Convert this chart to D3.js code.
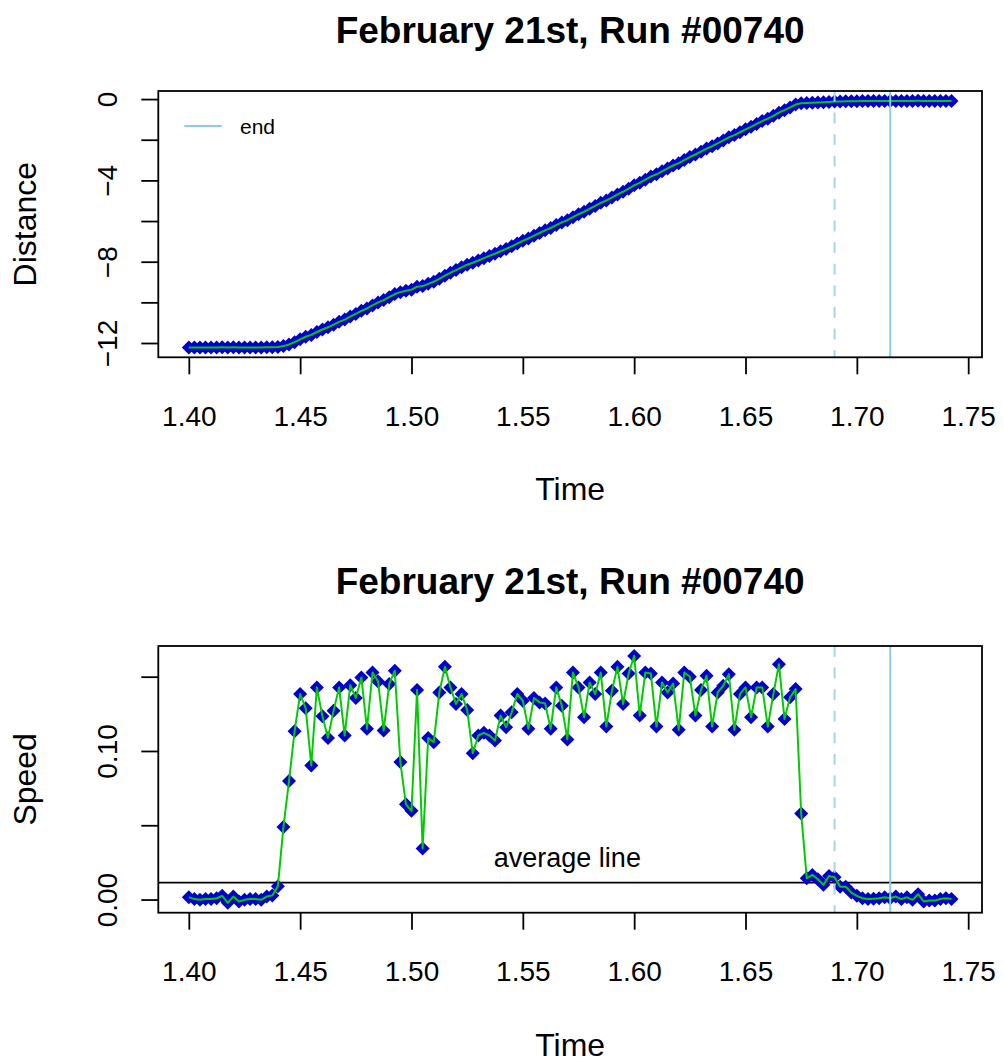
<!DOCTYPE html>
<html>
<head>
<meta charset="utf-8">
<script src="https://cdn.jsdelivr.net/npm/d3@7"></script>
<style>
  html, body { margin: 0; padding: 0; background: #fff; }
  svg text { font-family: "Liberation Sans", Arial, Helvetica, sans-serif; fill: #000; }
</style>
</head>
<body>
<svg id="chart" width="1004" height="1064"></svg>
<script>
// Sample times of run #00740
const time = [
  1.4000,1.4025,1.4050,1.4075,1.4100,1.4125,1.4150,1.4175,1.4200,1.4225,
  1.4250,1.4275,1.4300,1.4325,1.4350,1.4375,1.4400,1.4425,1.4450,1.4475,
  1.4500,1.4525,1.4550,1.4575,1.4600,1.4625,1.4650,1.4675,1.4700,1.4725,
  1.4750,1.4775,1.4800,1.4825,1.4850,1.4875,1.4900,1.4925,1.4950,1.4975,
  1.5000,1.5025,1.5050,1.5075,1.5100,1.5125,1.5150,1.5175,1.5200,1.5225,
  1.5250,1.5275,1.5300,1.5325,1.5350,1.5375,1.5400,1.5425,1.5450,1.5475,
  1.5500,1.5525,1.5550,1.5575,1.5600,1.5625,1.5650,1.5675,1.5700,1.5725,
  1.5750,1.5775,1.5800,1.5825,1.5850,1.5875,1.5900,1.5925,1.5950,1.5975,
  1.6000,1.6025,1.6050,1.6075,1.6100,1.6125,1.6150,1.6175,1.6200,1.6225,
  1.6250,1.6275,1.6300,1.6325,1.6350,1.6375,1.6400,1.6425,1.6450,1.6475,
  1.6500,1.6525,1.6550,1.6575,1.6600,1.6625,1.6650,1.6675,1.6700,1.6725,
  1.6750,1.6775,1.6800,1.6825,1.6850,1.6875,1.6900,1.6925,1.6950,1.6975,
  1.7000,1.7025,1.7050,1.7075,1.7100,1.7125,1.7150,1.7175,1.7200,1.7225,
  1.7250,1.7275,1.7300,1.7325,1.7350,1.7375,1.7400,1.7425
];

// Position along the track
const distance = [
  -12.218,-12.217,-12.218,-12.217,-12.217,-12.216,-12.214,-12.216,-12.214,-12.216,
  -12.216,-12.215,-12.215,-12.215,-12.213,-12.210,-12.201,-12.152,-12.072,-11.959,
  -11.821,-11.692,-11.602,-11.459,-11.336,-11.227,-11.100,-10.957,-10.847,-10.702,
  -10.567,-10.417,-10.302,-10.149,-10.003,-9.889,-9.744,-9.590,-9.498,-9.434,
  -9.374,-9.233,-9.199,-9.090,-8.984,-8.845,-8.688,-8.545,-8.414,-8.276,
  -8.148,-8.050,-7.939,-7.827,-7.717,-7.610,-7.486,-7.370,-7.244,-7.106,
  -6.972,-6.857,-6.721,-6.589,-6.457,-6.342,-6.199,-6.068,-5.961,-5.808,
  -5.665,-5.542,-5.396,-5.258,-5.105,-4.989,-4.848,-4.692,-4.560,-4.408,
  -4.244,-4.120,-3.967,-3.815,-3.699,-3.553,-3.413,-3.268,-3.154,-3.001,
  -2.851,-2.727,-2.586,-2.436,-2.319,-2.180,-2.036,-1.884,-1.770,-1.632,
  -1.489,-1.366,-1.224,-1.081,-0.964,-0.826,-0.668,-0.546,-0.410,-0.268,
  -0.210,-0.196,-0.179,-0.166,-0.156,-0.140,-0.125,-0.116,-0.108,-0.103,
  -0.101,-0.100,-0.099,-0.099,-0.098,-0.096,-0.096,-0.094,-0.093,-0.092,
  -0.092,-0.088,-0.090,-0.090,-0.091,-0.091,-0.090,-0.089
];

// Speed per sample
const speed = [
  0.0016,0.0003,-0.0002,0.0003,0.0003,0.0009,0.0025,-0.0022,0.0020,-0.0013,
  -0.0002,0.0003,0.0003,-0.0002,0.0020,0.0028,0.0090,0.0489,0.0798,0.1133,
  0.1383,0.1287,0.0903,0.1428,0.1233,0.1088,0.1271,0.1428,0.1104,0.1443,
  0.1357,0.1495,0.1149,0.1528,0.1468,0.1137,0.1450,0.1540,0.0925,0.0641,
  0.0597,0.1410,0.0344,0.1088,0.1059,0.1394,0.1566,0.1428,0.1316,0.1383,
  0.1276,0.0985,0.1104,0.1122,0.1104,0.1070,0.1238,0.1160,0.1260,0.1383,
  0.1338,0.1149,0.1357,0.1327,0.1320,0.1149,0.1428,0.1305,0.1078,0.1528,
  0.1428,0.1227,0.1461,0.1383,0.1528,0.1164,0.1405,0.1566,0.1316,0.1521,
  0.1640,0.1238,0.1528,0.1521,0.1164,0.1461,0.1394,0.1454,0.1142,0.1528,
  0.1499,0.1238,0.1410,0.1506,0.1164,0.1394,0.1439,0.1517,0.1142,0.1383,
  0.1428,0.1227,0.1428,0.1428,0.1164,0.1383,0.1584,0.1216,0.1361,0.1417,
  0.0579,0.0143,0.0166,0.0137,0.0099,0.0159,0.0150,0.0087,0.0087,0.0047,
  0.0025,0.0009,0.0003,0.0005,0.0009,0.0015,0.0009,0.0020,0.0003,0.0015,
  -0.0002,0.0036,-0.0013,-0.0007,-0.0007,0.0004,0.0009,0.0003
];

// Reference markers
const dashedTime = 1.69;
const endTime = 1.715;
const averageSpeed = 0.0114;

// Axis ticks and labels
const xTicks = [1.40, 1.45, 1.50, 1.55, 1.60, 1.65, 1.70, 1.75];
const xTickLabels = ["1.40", "1.45", "1.50", "1.55", "1.60", "1.65", "1.70", "1.75"];
const distTicks = [0, -2, -4, -6, -8, -10, -12];
const distTickLabels = ["0", "", "\u22124", "", "\u22128", "", "\u221212"];
const speedTicks = [0, 0.05, 0.10, 0.15];
const speedTickLabels = ["0.00", "", "0.10", ""];

const TITLE = "February 21st, Run #00740";

// ---- layout ----
const svg = d3.select("#chart");
const plotLeft = 158.3, plotRight = 982;
const panels = [
  { top: 91, bottom: 357.3, titleY: 30 },
  { top: 646, bottom: 912.7, titleY: 581 }
];
const FONT = 28;
const LAB = 32;
const TICK = 17;
const BLUE = "#0000CD", GREEN = "#00CD00", SKY = "#87CEEB", LIGHT = "#A6D5E8";

// R-style 4% padded domain
function padded(values) {
  const [lo, hi] = d3.extent(values);
  const p = (hi - lo) * 0.04;
  return [lo - p, hi + p];
}

const x = d3.scaleLinear().domain(padded(time)).range([plotLeft, plotRight]);
const diamond = r => `M0,${-r}L${r},0L0,${r}L${-r},0Z`;

function drawPanel(p, values, yTicks, yTickLabels, yTitle, extras) {
  const y = d3.scaleLinear().domain(padded(values)).range([p.bottom, p.top]);
  const g = svg.append("g");
  const cx = (plotLeft + plotRight) / 2;

  // title
  g.append("text").attr("x", cx).attr("y", p.titleY)
    .attr("text-anchor", "middle").attr("dominant-baseline", "central")
    .attr("font-size", 37).attr("font-weight", "bold").text(TITLE);

  // clip for plot contents
  const clipId = "clip" + Math.round(p.top);
  svg.append("clipPath").attr("id", clipId).append("rect")
    .attr("x", plotLeft).attr("y", p.top)
    .attr("width", plotRight - plotLeft).attr("height", p.bottom - p.top);
  const inner = g.append("g").attr("clip-path", `url(#${clipId})`);

  if (extras.average !== undefined) {
    inner.append("line")
      .attr("x1", plotLeft).attr("x2", plotRight)
      .attr("y1", y(extras.average)).attr("y2", y(extras.average))
      .attr("stroke", "#000").attr("stroke-width", 1.8);
  }

  // points
  inner.selectAll("path.pt").data(values).join("path")
    .attr("class", "pt")
    .attr("transform", (d, i) => `translate(${x(time[i])},${y(d)})`)
    .attr("d", diamond(7))
    .attr("fill", BLUE);

  // connecting line
  inner.append("path")
    .datum(values)
    .attr("fill", "none").attr("stroke", GREEN).attr("stroke-width", 2)
    .attr("stroke-linejoin", "round")
    .attr("d", d3.line().x((d, i) => x(time[i])).y(d => y(d)));

  // vertical markers
  inner.append("line")
    .attr("x1", x(dashedTime)).attr("x2", x(dashedTime))
    .attr("y1", p.top).attr("y2", p.bottom)
    .attr("stroke", LIGHT).attr("stroke-width", 2)
    .attr("stroke-dasharray", "10.8,10.8");
  inner.append("line")
    .attr("x1", x(endTime)).attr("x2", x(endTime))
    .attr("y1", p.top).attr("y2", p.bottom)
    .attr("stroke", SKY).attr("stroke-width", 2);

  if (extras.averageLabel) {
    g.append("text").attr("x", x(1.57)).attr("y", p.bottom - 46)
      .attr("text-anchor", "middle").attr("font-size", FONT - 1)
      .text(extras.averageLabel);
  }

  if (extras.legend) {
    g.append("line").attr("x1", 184.3).attr("x2", 221.7)
      .attr("y1", p.top + 35).attr("y2", p.top + 35)
      .attr("stroke", SKY).attr("stroke-width", 2);
    g.append("text").attr("x", 240).attr("y", p.top + 35)
      .attr("dominant-baseline", "central").attr("font-size", 21)
      .text(extras.legend);
  }

  // frame
  g.append("rect").attr("x", plotLeft).attr("y", p.top)
    .attr("width", plotRight - plotLeft).attr("height", p.bottom - p.top)
    .attr("fill", "none").attr("stroke", "#000").attr("stroke-width", 1.8);

  // x axis
  const gx = g.append("g").attr("transform", `translate(0,${p.bottom})`)
    .call(d3.axisBottom(x).tickValues(xTicks)
      .tickFormat((d, i) => xTickLabels[i]).tickSize(TICK).tickSizeOuter(0));
  gx.select(".domain").remove();
  gx.selectAll(".tick line").attr("stroke", "#000").attr("stroke-width", 1.8);
  gx.selectAll(".tick text").attr("y", 59).attr("dy", null)
    .attr("dominant-baseline", "central").attr("font-size", FONT)
    .attr("font-family", null).attr("fill", "#000");

  // y axis
  const gy = g.append("g").attr("transform", `translate(${plotLeft},0)`)
    .call(d3.axisLeft(y).tickValues(yTicks)
      .tickFormat((d, i) => yTickLabels[i]).tickSize(TICK).tickSizeOuter(0));
  gy.select(".domain").remove();
  gy.selectAll(".tick line").attr("stroke", "#000").attr("stroke-width", 1.8);
  gy.selectAll(".tick text")
    .attr("x", 0).attr("y", -41).attr("dy", null)
    .attr("transform", "rotate(-90)")
    .attr("text-anchor", "middle").attr("font-size", FONT)
    .attr("font-family", null).attr("fill", "#000");

  // axis titles
  g.append("text").attr("x", cx).attr("y", p.bottom + 143)
    .attr("text-anchor", "middle").attr("font-size", LAB).text("Time");
  g.append("text")
    .attr("transform", `translate(36,${(p.top + p.bottom) / 2}) rotate(-90)`)
    .attr("text-anchor", "middle").attr("font-size", LAB).text(yTitle);
}

drawPanel(panels[0], distance, distTicks, distTickLabels, "Distance", { legend: "end" });
drawPanel(panels[1], speed, speedTicks, speedTickLabels, "Speed",
  { average: averageSpeed, averageLabel: "average line" });
</script>
</body>
</html>
